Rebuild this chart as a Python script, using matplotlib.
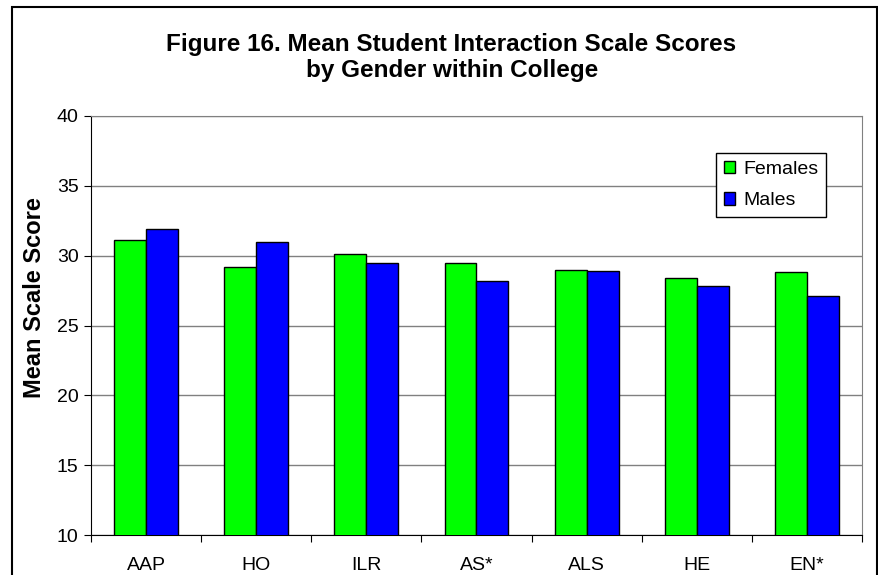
import matplotlib.pyplot as plt
import numpy as np
from matplotlib.patches import Rectangle

colleges = ["AAP", "HO", "ILR", "AS*", "ALS", "HE", "EN*"]
females = [31.1, 29.2, 30.1, 29.5, 29.0, 28.4, 28.8]
males = [31.9, 31.0, 29.5, 28.2, 28.9, 27.8, 27.1]

plt.rcParams["font.family"] = ["Liberation Sans", "DejaVu Sans"]

W, H = 879, 575
fig = plt.figure(figsize=(W / 100, H / 100), dpi=100)
ax = fig.add_axes([91 / W, (H - 535) / H, (862 - 91) / W, (535 - 116) / H])

x = np.arange(len(colleges))
bw = 0.29
ax.bar(x - bw / 2, females, bw, color="#00FF00", edgecolor="black",
       linewidth=1, label="Females", zorder=3)
ax.bar(x + bw / 2, males, bw, color="#0000FF", edgecolor="black",
       linewidth=1, label="Males", zorder=3)

ax.set_ylim(10, 40)
ax.set_xlim(-0.5, len(colleges) - 0.5)
ax.set_yticks(range(10, 41, 5))
ax.yaxis.grid(True, color="#808080", linewidth=1, zorder=0)
ax.tick_params(axis="y", labelsize=14, length=5, direction="out", pad=4)

ax.set_xticks(np.arange(-0.5, len(colleges), 1))
ax.set_xticklabels([])
ax.set_xticks(x, minor=True)
ax.set_xticklabels(colleges, minor=True)
ax.tick_params(axis="x", which="major", length=5, direction="out")
ax.tick_params(axis="x", which="minor", length=0, labelsize=14, pad=16)

for s in ["top", "right"]:
    ax.spines[s].set_color("#808080")
for s in ["left", "bottom"]:
    ax.spines[s].set_color("black")

# y label placed in figure pixels
fig.text(35 / W, 1 - 298 / H, "Mean Scale Score", rotation=90,
         ha="center", va="center", fontsize=17, fontweight="bold")

fig.text(451 / W, 1 - 51 / H, "Figure 16. Mean Student Interaction Scale Scores",
         ha="center", va="baseline", fontsize=17.5, fontweight="bold")
fig.text(452 / W, 1 - 77 / H, "by Gender within College",
         ha="center", va="baseline", fontsize=17.5, fontweight="bold")

leg = ax.legend(loc="upper left", bbox_to_anchor=(716 / W, 1 - 153 / H),
                bbox_transform=fig.transFigure, borderaxespad=0, fancybox=False,
                edgecolor="black", framealpha=1, fontsize=14, handlelength=0.6,
                handleheight=0.6, handletextpad=0.4, labelspacing=0.75,
                borderpad=0.4)
leg.get_frame().set_linewidth(1)

fig.patches.append(Rectangle((12 / W, -0.1), (877 - 12) / W, 1.1 - 7 / H,
                             transform=fig.transFigure, fill=False,
                             edgecolor="black", linewidth=1.5))

fig.savefig("out.png", dpi=100)
